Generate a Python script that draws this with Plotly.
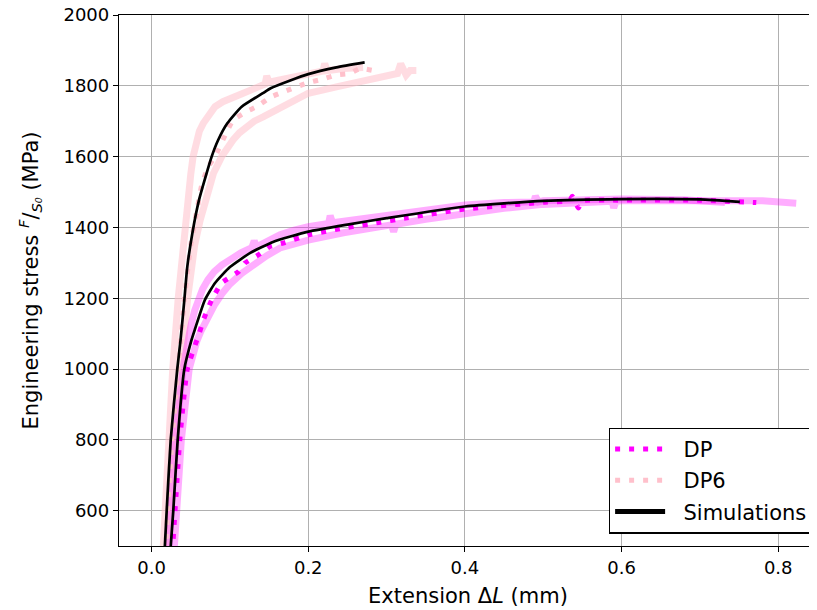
import plotly.graph_objects as go

# ---------------- data ----------------
# DP simulation
sim_dp_x = [0.0238, 0.0277, 0.0333, 0.0418, 0.051, 0.055, 0.068, 0.081, 0.100, 0.126, 0.155, 0.200, 0.250, 0.300, 0.400, 0.500, 0.600, 0.700, 0.751]
sim_dp_y = [480, 600, 800, 1000, 1082, 1110, 1195, 1243, 1288, 1328, 1359, 1388, 1408, 1426, 1459, 1475, 1480, 1479, 1472]
# DP6 simulation
sim_dp6_x = [0.0165, 0.0193, 0.0244, 0.0328, 0.037, 0.0418, 0.0456, 0.052, 0.0605, 0.0767, 0.085, 0.0967, 0.115, 0.142, 0.152, 0.177, 0.200, 0.236, 0.272]
sim_dp6_y = [480, 600, 800, 1000, 1082, 1195, 1289, 1383, 1477, 1600, 1647, 1694, 1741, 1779, 1793, 1815, 1833, 1852, 1866]

# DP experiments (mean, dotted)
dp_mean_x = [0.0265, 0.036, 0.0456, 0.061, 0.066, 0.0767, 0.0895, 0.111, 0.119, 0.136, 0.151, 0.168, 0.200, 0.250, 0.290, 0.320, 0.400, 0.500, 0.534, 0.537, 0.545, 0.550, 0.600, 0.700, 0.772]
dp_mean_y = [480, 800, 1000, 1102, 1138, 1195, 1243, 1275, 1299, 1322, 1346, 1356, 1379, 1400, 1414, 1425, 1452, 1471, 1476, 1488, 1455, 1475, 1477, 1477, 1470]
# DP experiments (individual tests, translucent)
dp_a_x = [0.0215, 0.030, 0.040, 0.045, 0.050, 0.055, 0.060, 0.065, 0.072, 0.080, 0.090, 0.100, 0.114, 0.128, 0.131, 0.134, 0.148, 0.164, 0.182, 0.200, 0.226, 0.228, 0.231, 0.260, 0.290, 0.340, 0.400, 0.450, 0.488, 0.490, 0.494, 0.500, 0.550, 0.600, 0.680, 0.732]
dp_a_y = [480, 800, 1000, 1065, 1120, 1165, 1198, 1225, 1252, 1275, 1294, 1310, 1328, 1343, 1362, 1345, 1362, 1379, 1392, 1402, 1411, 1433, 1413, 1422, 1430, 1448, 1463, 1470, 1472, 1488, 1472, 1475, 1479, 1480, 1478, 1470]
dp_b_x = [0.0285, 0.038, 0.048, 0.053, 0.058, 0.063, 0.068, 0.074, 0.080, 0.090, 0.100, 0.115, 0.130, 0.147, 0.164, 0.182, 0.200, 0.245, 0.290, 0.306, 0.309, 0.312, 0.350, 0.400, 0.450, 0.500, 0.588, 0.590, 0.593, 0.600, 0.700, 0.780, 0.823]
dp_b_y = [480, 800, 1000, 1045, 1080, 1107, 1130, 1157, 1180, 1213, 1240, 1270, 1295, 1320, 1342, 1354, 1364, 1385, 1402, 1407, 1388, 1409, 1423, 1440, 1454, 1465, 1474, 1455, 1474, 1475, 1477, 1475, 1468]

# DP6 experiments (mean, dotted)
dp6_mean_x = [0.0175, 0.026, 0.034, 0.042, 0.050, 0.058, 0.064, 0.072, 0.081, 0.094, 0.104, 0.121, 0.134, 0.153, 0.172, 0.200, 0.217, 0.236, 0.253, 0.266, 0.283]
dp6_mean_y = [480, 800, 1000, 1200, 1350, 1450, 1520, 1570, 1600, 1661, 1703, 1727, 1741, 1769, 1786, 1809, 1818, 1831, 1835, 1849, 1843]
# DP6 experiments (individual tests, translucent)
dp6_a_x = [0.0145, 0.021, 0.027, 0.034, 0.040, 0.047, 0.050, 0.053, 0.0575, 0.061, 0.066, 0.073, 0.081, 0.091, 0.103, 0.117, 0.131, 0.145, 0.147, 0.150, 0.162, 0.175, 0.188, 0.202, 0.219, 0.221, 0.224, 0.245, 0.270]
dp6_a_y = [480, 800, 1000, 1200, 1350, 1477, 1550, 1600, 1647, 1672, 1694, 1720, 1741, 1755, 1768, 1779, 1792, 1805, 1828, 1810, 1816, 1822, 1829, 1835, 1842, 1863, 1843, 1849, 1852]
dp6_b_x = [0.0205, 0.030, 0.038, 0.046, 0.055, 0.062, 0.070, 0.079, 0.0895, 0.096, 0.104, 0.112, 0.121, 0.131, 0.143, 0.160, 0.177, 0.200, 0.236, 0.279, 0.309, 0.314, 0.318, 0.322, 0.325, 0.330, 0.338]
dp6_b_y = [480, 800, 1000, 1200, 1350, 1420, 1477, 1553, 1600, 1625, 1647, 1667, 1685, 1700, 1713, 1732, 1755, 1779, 1797, 1818, 1831, 1835, 1862, 1845, 1830, 1843, 1843]

x_ticks = [0.0, 0.2, 0.4, 0.6, 0.8]
x_tick_labels = ["0.0", "0.2", "0.4", "0.6", "0.8"]
y_ticks = [600, 800, 1000, 1200, 1400, 1600, 1800, 2000]
y_tick_labels = ["600", "800", "1000", "1200", "1400", "1600", "1800", "2000"]
legend_names = ["DP", "DP6", "Simulations"]

# ---------------- styles ----------------
MAGENTA = "#ff00ff"
PINK = "#ffc0cb"
MAGENTA_T = "rgba(255,0,255,0.32)"
PINK_T = "rgba(255,192,203,0.55)"
DOT = "5px,9px"
FONT = "DejaVu Sans, Liberation Sans, sans-serif"
NBSP = "\u00a0"

fig = go.Figure()

for xs, ys, col in [(dp6_a_x, dp6_a_y, PINK_T), (dp6_b_x, dp6_b_y, PINK_T),
                    (dp_a_x, dp_a_y, MAGENTA_T), (dp_b_x, dp_b_y, MAGENTA_T)]:
    fig.add_trace(go.Scatter(x=xs, y=ys, mode="lines", showlegend=False, hoverinfo="skip",
                             line=dict(color=col, width=7)))

fig.add_trace(go.Scatter(x=dp6_mean_x, y=dp6_mean_y, mode="lines", showlegend=False,
                         line=dict(color=PINK, width=5, dash=DOT, shape="spline", smoothing=0.4)))
fig.add_trace(go.Scatter(x=dp_mean_x, y=dp_mean_y, mode="lines", showlegend=False,
                         line=dict(color=MAGENTA, width=5, dash=DOT, shape="spline", smoothing=0.4)))

fig.add_trace(go.Scatter(x=sim_dp_x, y=sim_dp_y, mode="lines", showlegend=False,
                         line=dict(color="black", width=2.7, shape="spline", smoothing=0.5)))
fig.add_trace(go.Scatter(x=sim_dp6_x, y=sim_dp6_y, mode="lines", showlegend=False,
                         line=dict(color="black", width=2.7, shape="spline", smoothing=0.5)))

# legend entries
legend_styles = [dict(color=MAGENTA, width=5, dash=DOT),
                 dict(color=PINK, width=5, dash=DOT),
                 dict(color="black", width=5)]
for i, (nm, st) in enumerate(zip(legend_names, legend_styles)):
    fig.add_trace(go.Scatter(x=[None], y=[None], mode="lines", name=NBSP * 2 + nm,
                             legendgroup="g%d" % i, line=st))

axis_common = dict(
    showline=True, linecolor="black", linewidth=1.3,
    ticks="outside", ticklen=5, tickwidth=1.3, tickcolor="black",
    showgrid=True, gridcolor="#b0b0b0", gridwidth=1.4,
    zeroline=False, tickfont=dict(family=FONT, size=18, color="black"),
    ticklabeloverflow="allow", automargin=False,
)

# the page body adds an 8px offset, so the figure is 8px smaller and margins shifted
fig.update_layout(
    width=809, height=602,
    margin=dict(l=111, r=0, t=7, b=64),
    paper_bgcolor="white", plot_bgcolor="white",
    font=dict(family=FONT, color="black"),
    xaxis=dict(range=[-0.0416, 0.8495], tickvals=x_ticks, ticktext=x_tick_labels,
               mirror=True,
               title=dict(text="Extension Δ<i>L</i> (mm)", font=dict(family=FONT, size=21), standoff=11),
               **axis_common),
    yaxis=dict(range=[500, 2000], tickvals=y_ticks, ticktext=y_tick_labels,
               mirror=False,
               title=dict(text="Engineering stress <i><sup>F</sup></i>/<i><sub>S₀</sub></i> (MPa)",
                          font=dict(family=FONT, size=21), standoff=19),
               **axis_common),
    legend=dict(x=0.994, y=0.0235, xanchor="right", yanchor="bottom",
                bgcolor="white", bordercolor="black", borderwidth=1.3,
                font=dict(family=FONT, size=21, color="black"),
                itemwidth=50, tracegroupgap=1, traceorder="grouped"),
)

fig.write_html("out.html")
